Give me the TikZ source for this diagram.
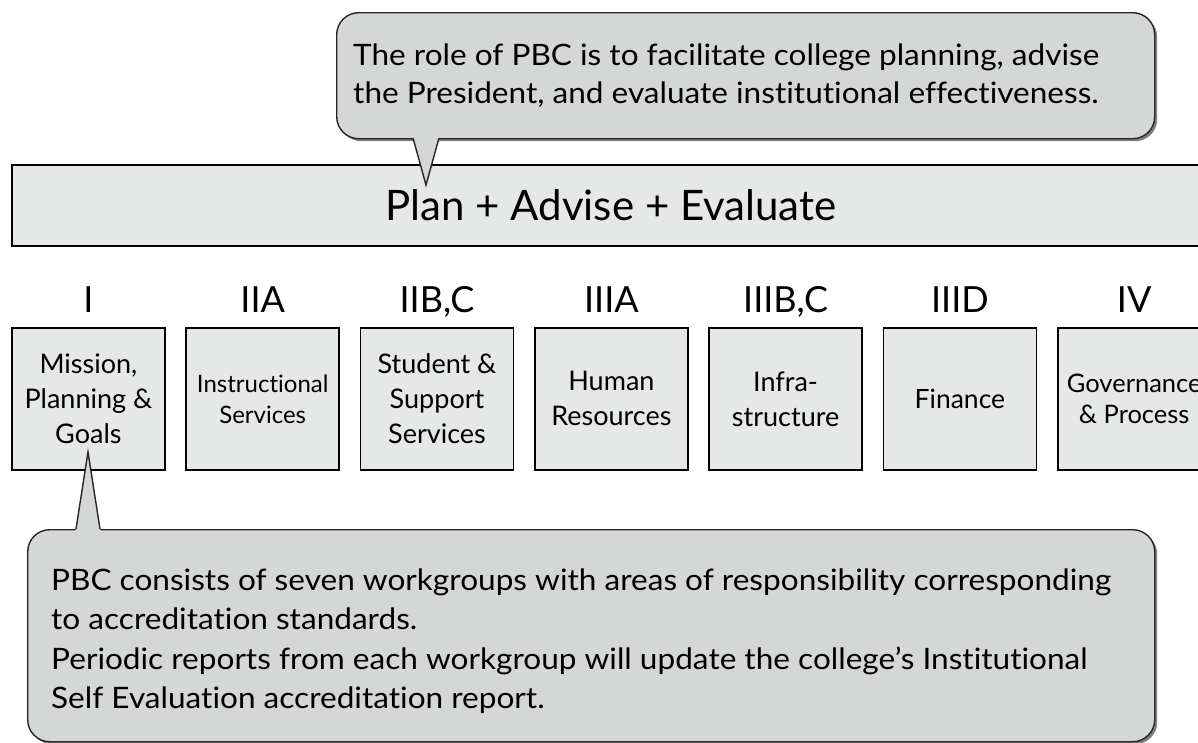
\documentclass[tikz,border=0pt]{standalone}
\usepackage{fontspec}
\setmainfont[RawFeature={-liga}]{Lato}
\newfontfamily\calloutfont[RawFeature={-liga}, FakeStretch=1.07]{Lato}
\usetikzlibrary{shadows}
\definecolor{barfill}{HTML}{E6E7E7}
\definecolor{callfill}{HTML}{D5D6D6}
\begin{document}
\begin{tikzpicture}[x=1pt,y=-1pt,
  box/.style={draw=black, line width=1.8pt, fill=barfill, minimum width=153pt,
    minimum height=142pt, inner sep=0pt, align=center, anchor=north west,
    font=\fontsize{27}{35}\selectfont},
  roman/.style={anchor=base, inner sep=0pt, font=\fontsize{36}{40}\selectfont},
  callout/.style={draw=black!85, line width=1.4pt, fill=callfill, rounded corners=22pt,
    inner sep=0pt, anchor=north west,
    drop shadow={shadow xshift=2.5pt, shadow yshift=-2.5pt, opacity=0.5, fill=black}},
  tailfill/.style={fill=callfill},
  tailline/.style={draw=black!85, line width=1.4pt, line join=miter},
  ctext/.style={anchor=base west, inner sep=0pt, font=\calloutfont\fontsize{29.5}{33}\selectfont}]
\clip (0,0) rectangle (1198,742);
\fill[white] (0,0) rectangle (1198,742);

% bar
\node[draw=black, line width=2pt, fill=barfill, minimum width=1220pt, minimum height=81pt,
  inner sep=0pt, anchor=north west] (bar) at (11,164) {};
\node[anchor=base, inner sep=0pt, font=\fontsize{42}{46}\selectfont] (plan) at (611,220) {Plan + Advise + Evaluate};

% workgroup boxes
\node[box] (b1) at (11,327) {Mission,\\Planning \&\\Goals};
\node[box, font=\fontsize{24}{31}\selectfont] (b2) at (185.3,327) {Instructional\\Services};
\node[box] (b3) at (359.6,327) {Student \&\\Support\\Services};
\node[box] (b4) at (534,327) {Human\\Resources};
\node[box] (b5) at (708.2,327) {Infra-\\structure};
\node[box, font=\fontsize{26.5}{35}\selectfont] (b6) at (882.5,327) {Finance};
\node[box, font=\fontsize{25.5}{31}\selectfont] (b7) at (1056.8,327) {Governance\\\& Process};

\node[roman] (r1) at ([yshift=15pt]b1.north) {I};
\node[roman] (r2) at ([yshift=15pt]b2.north) {IIA};
\node[roman] (r3) at ([yshift=15pt]b3.north) {IIB,C};
\node[roman] (r4) at ([yshift=15pt]b4.north) {IIIA};
\node[roman] (r5) at ([yshift=15pt]b5.north) {IIIB,C};
\node[roman] (r6) at ([yshift=15pt]b6.north) {IIID};
\node[roman] (r7) at ([yshift=15pt]b7.north) {IV};

% top callout
\node[callout, minimum width=818pt, minimum height=126pt] (c1) at (336,12) {};
\fill[tailfill] (411,133) -- (413,138) -- (426,185) -- (439,138) -- (441,133) -- cycle;
\draw[tailline] (413,138) -- (426,185) -- (439,138);
\node[ctext] (c1l1) at (353,65) {The role of PBC is to facilitate college planning, advise};
\node[ctext] (c1l2) at (353,103) {the President, and evaluate institutional effectiveness.};

% bottom callout
\node[callout, minimum width=1127pt, minimum height=212pt] (c2) at (27,529) {};
\fill[tailfill] (74,534) -- (76,529) -- (88,452) -- (100,529) -- (102,534) -- cycle;
\draw[tailline] (76,529) -- (88,452) -- (100,529);
\node[ctext] (c2l1) at (51,590) {PBC consists of seven workgroups with areas of responsibility corresponding};
\node[ctext] (c2l2) at (51,629.5) {to accreditation standards.};
\node[ctext] (c2l3) at (51,669) {Periodic reports from each workgroup will update the college’s Institutional};
\node[ctext] (c2l4) at (51,708) {Self Evaluation accreditation report.};
\end{tikzpicture}
\end{document}
